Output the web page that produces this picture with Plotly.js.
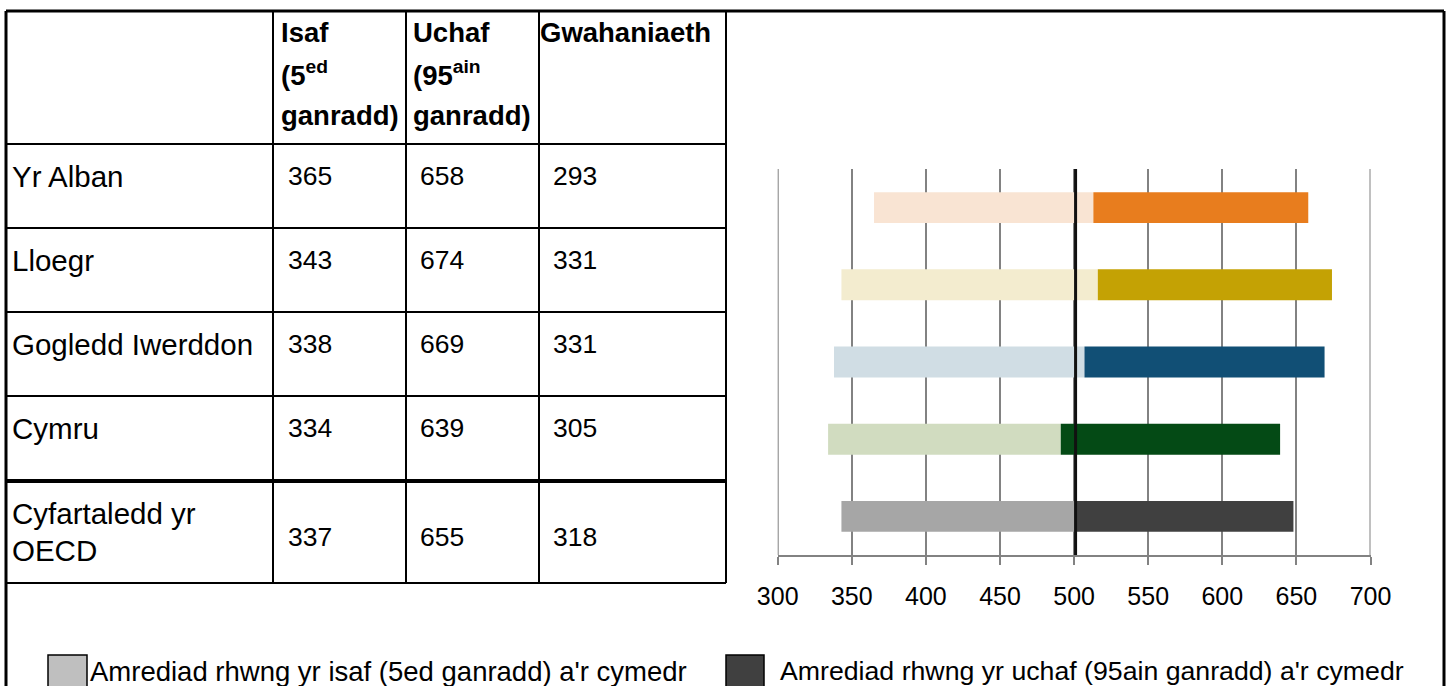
<!DOCTYPE html>
<html>
<head>
<meta charset="utf-8">
<script src="https://cdn.plot.ly/plotly-3.0.1.min.js"></script>
<style>html,body{margin:0;padding:0;background:#fff;}#chart{width:1450px;height:686px;}</style>
</head>
<body>
<div id="chart"></div>
<script>
// ---- data ----
var countries = ['Yr Alban', 'Lloegr', 'Gogledd Iwerddon', 'Cymru', 'Cyfartaledd yr<br>OECD'];
// table values
var lowP5 = [365, 343, 338, 334, 337];
var highP95 = [658, 674, 669, 639, 655];
var diffs = [293, 331, 331, 305, 318];
// bar values as drawn in the chart
var barLow = [365, 343, 338, 334, 343];
var barHigh = [658, 674, 669, 639, 648];
var means = [513, 516, 507, 491, 501];
var oecdMean = 501;
var lightColors = ['#F9E4D3', '#F3ECCF', '#D0DDE4', '#D1DCC0', '#A6A6A6'];
var darkColors = ['#E87D1E', '#C4A204', '#114F75', '#044A15', '#404040'];
var headerLines = [['Isaf', '(5<sup>ed</sup>', 'ganradd)'], ['Uchaf', '(95<sup>ain</sup>', 'ganradd)'], ['Gwahaniaeth']];
var legendLabels = ["Amrediad rhwng yr isaf (5ed ganradd) a'r cymedr", "Amrediad rhwng yr uchaf (95ain ganradd) a'r cymedr"];
var legendColors = ['#BFBFBF', '#404040'];
var xTicks = [300, 350, 400, 450, 500, 550, 600, 650, 700];

// ---- geometry helpers ----
var W = 1450, H = 686;
function px(x) { return x / W; }
function py(y) { return 1 - y / H; }
var FONT = 'Liberation Sans, Arial, sans-serif';

var cats = countries.map(function (c) { return c.replace('<br>', ' '); });

var lightTrace = {
  type: 'bar', orientation: 'h', y: cats,
  base: barLow,
  x: barLow.map(function (v, i) { return means[i] - v; }),
  marker: { color: lightColors, line: { width: 0 } },
  width: 0.4, showlegend: false, hoverinfo: 'skip'
};
var darkTrace = {
  type: 'bar', orientation: 'h', y: cats,
  base: means,
  x: barHigh.map(function (v, i) { return v - means[i]; }),
  marker: { color: darkColors, line: { width: 0 } },
  width: 0.4, showlegend: false, hoverinfo: 'skip'
};

var shapes = [];
function line(x0, y0, x1, y1, w, c) {
  shapes.push({ type: 'line', xref: 'paper', yref: 'paper', x0: px(x0), y0: py(y0), x1: px(x1), y1: py(y1),
    line: { color: c || '#000', width: w } });
}
// outer frame
line(6, 11, 1444, 11, 3);
line(6, 11, 6, 700, 3);
line(1444, 11, 1444, 700, 3);
// table columns
[273, 406, 539, 726].forEach(function (x) { line(x, 11, x, 583, 2); });
// table rows
[144, 228, 312, 396, 583].forEach(function (y) { line(6, y, 726, y, 2); });
line(6, 481, 726, 481, 4);
// edge gridlines (plotly drops gridlines at range ends)
[xTicks[0], xTicks[xTicks.length - 1]].forEach(function (v) {
  shapes.push({ type: 'line', xref: 'x', yref: 'y domain', x0: v, x1: v, y0: 0, y1: 1,
    line: { color: '#828282', width: 2 }, layer: 'below' });
});
// OECD mean line
shapes.push({ type: 'line', xref: 'x', yref: 'y domain', x0: oecdMean, x1: oecdMean, y0: 0, y1: 1,
  line: { color: '#111', width: 3 }, layer: 'above' });
// legend swatches
shapes.push({ type: 'rect', xref: 'paper', yref: 'paper', x0: px(48), x1: px(87), y0: py(655), y1: py(700),
  fillcolor: legendColors[0], line: { color: '#000', width: 1.5 } });
shapes.push({ type: 'rect', xref: 'paper', yref: 'paper', x0: px(726), x1: px(764), y0: py(655), y1: py(700),
  fillcolor: legendColors[1], line: { color: '#000', width: 1.5 } });

var annotations = [];
function text(t, x, y, size, bold) {
  annotations.push({ xref: 'paper', yref: 'paper', x: px(x), y: py(y), xanchor: 'left', yanchor: 'middle',
    text: bold ? '<b>' + t + '</b>' : t, showarrow: false, align: 'left',
    font: { family: FONT, size: size, color: '#000' } });
}
// header
var headerX = [279, 411, 538];
var headerY = [33, 74, 115];
headerLines.forEach(function (lines, c) {
  lines.forEach(function (t, r) { text(t, headerX[c], headerY[r], 27.5, true); });
});
// rows
var rowY = [176, 260, 344, 428, 537];
countries.forEach(function (c, i) {
  var parts = c.split('<br>');
  if (parts.length === 1) { text(c, 10, rowY[i], 29.5, false); }
  else { parts.forEach(function (p, k) { text(p, 10, 513 + 37 * k, 29.5, false); }); }
});
var colX = [286, 418, 551];
[lowP5, highP95, diffs].forEach(function (arr, c) {
  arr.forEach(function (v, i) { text(String(v), colX[c], rowY[i], 26.5, false); });
});
// legend text
text(legendLabels[0], 88, 671, 27.5, false);
text(legendLabels[1], 778, 671, 26.7, false);

var layout = {
  width: W, height: H,
  margin: { l: 0, r: 0, t: 0, b: 0 },
  paper_bgcolor: '#fff', plot_bgcolor: '#fff',
  barmode: 'overlay',
  showlegend: false,
  xaxis: {
    domain: [px(777.7), px(1370.5)],
    range: [300, 700], tickvals: xTicks, ticktext: xTicks.map(String),
    showgrid: true, gridcolor: '#828282', gridwidth: 2,
    showline: true, linecolor: '#828282', linewidth: 2,
    ticks: 'outside', ticklen: 8, tickcolor: '#828282', tickwidth: 2,
    ticklabelstandoff: 10,
    tickfont: { family: FONT, size: 25, color: '#000' },
    zeroline: false, fixedrange: true
  },
  yaxis: {
    domain: [py(555), py(169)],
    type: 'category', categoryorder: 'array', categoryarray: cats,
    autorange: 'reversed', showticklabels: false, showgrid: false, showline: false,
    zeroline: false, ticks: '', fixedrange: true
  },
  shapes: shapes,
  annotations: annotations
};

Plotly.newPlot('chart', [lightTrace, darkTrace], layout, { staticPlot: true, displayModeBar: false });
</script>
</body>
</html>
